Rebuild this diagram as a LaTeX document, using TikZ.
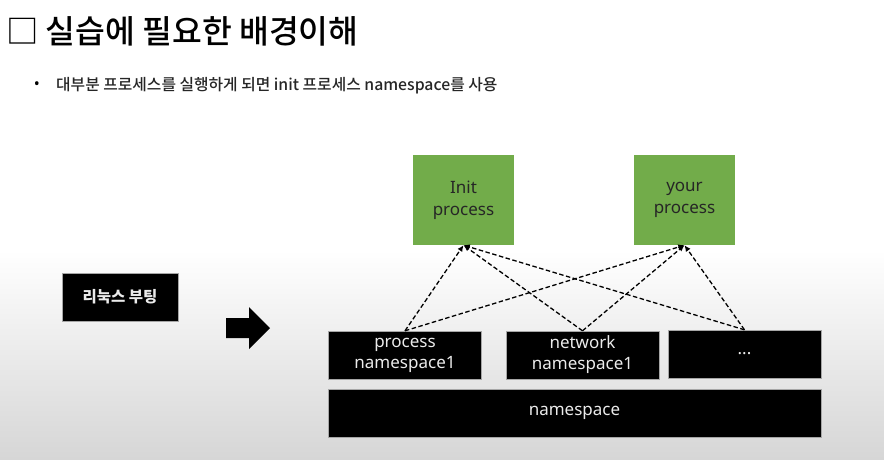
\documentclass[tikz,border=0pt]{standalone}
\usepackage{fontspec}
\setmainfont{Noto Sans}
\newfontfamily\kr{Noto Sans CJK KR}
\newfontfamily\krmed{Noto Sans CJK KR Medium}
\usetikzlibrary{arrows.meta,positioning}
\definecolor{ProcGreen}{RGB}{114,172,74}
\definecolor{SlideGray}{RGB}{214,214,214}

\begin{document}
\begin{tikzpicture}[
    x=1pt, y=-1pt,
    greenbox/.style={
      rectangle, fill=ProcGreen, minimum width=101pt, minimum height=90pt,
      inner sep=1.5pt, align=center, text=black!85,
      font=\fontsize{17}{22}\selectfont
    },
    nsbox/.style={
      rectangle, fill=black, draw=gray!70, thin, minimum width=153pt,
      minimum height=48pt, inner sep=1.5pt, align=center, text=white!92!black,
      font=\fontsize{17}{21}\selectfont
    },
    link/.style={-{Latex[length=2.2mm,width=2mm]}, line width=1.3pt,
      dash pattern=on 4.5pt off 2.5pt, draw=black}
  ]
    % slide background
    \useasboundingbox (0,0) rectangle (884,459);
    \fill[white] (0,0) rectangle (884,250);
    \shade[top color=white, bottom color=SlideGray] (0,250) rectangle (884,459);

    % heading
    \node[anchor=west, inner sep=0, font=\krmed\fontsize{32.4}{36}\selectfont] (title) at (6,31) {□ 실습에 필요한 배경이해};
    \node[inner sep=0, font=\fontsize{16}{18}\selectfont] (dot) at (37,86) {•};
    \node[anchor=west, inner sep=0, text=black!85, font=\krmed\fontsize{15.8}{18}\selectfont] (intro) at (56,86) {대부분 프로세스를 실행하게 되면 init 프로세스 namespace를 사용};

    % processes
    \node[greenbox] (init) at (463.5,200) {Init\\process};
    \node[greenbox] (your) at (684.5,200) {your\\process};

    % namespaces
    \node[nsbox] (procns) at (405,355) {process\\namespace1};
    \node[nsbox] (netns) at (582.5,355) {network\\namespace1};
    \node[nsbox] (more) at (744.5,354) {...};
    \node[nsbox, minimum width=493pt] (ns) at (574.5,413) {namespace};

    % boot
    \node[rectangle, fill=black, draw=gray!70, thin, minimum width=116pt, minimum height=48pt,
      text=white!92!black, font=\kr\bfseries\fontsize{15.5}{18}\selectfont] (boot) at (120,297) {리눅스 부팅};
    \fill[black] (226,318) -- (249,318) -- (249,307) -- (270,328) -- (249,349)
      -- (249,338) -- (226,338) -- cycle;

    \draw[link] (procns.north) -- (init.south);
    \draw[link] (procns.north) -- (your.south);
    \draw[link] (netns.north) -- (init.south);
    \draw[link] (netns.north) -- (your.south);
    \draw[link] (more.north) -- (init.south);
    \draw[link] (more.north) -- (your.south);
  \end{tikzpicture}
\end{document}
